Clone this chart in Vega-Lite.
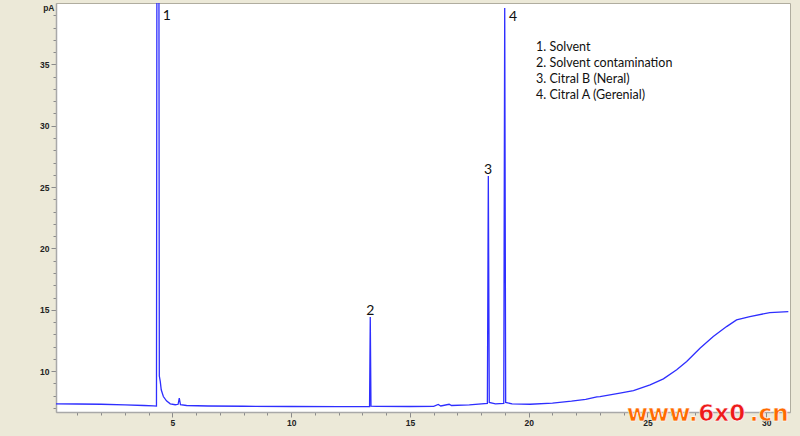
{
  "$schema": "https://vega.github.io/schema/vega-lite/v6.json",
  "autosize": {"type": "none"},
  "width": 734,
  "height": 409,
  "padding": {"left": 56, "top": 3, "right": 10, "bottom": 24},
  "background": "#ECE9D8",
  "view": {"fill": "white", "stroke": "#b0ad9f", "strokeWidth": 1},
  "config": {
    "axis": {
      "domainColor": "#a8a8a8",
      "domainWidth": 1.5,
      "tickColor": "#8a8a8a",
      "tickWidth": 1,
      "labelFont": "Liberation Sans",
      "labelFontSize": 8.5,
      "labelFontWeight": "bold",
      "labelColor": "#222222",
      "grid": false,
      "title": null
    }
  },
  "resolve": {"axis": {"x": "independent", "y": "independent"}},
  "datasets": {
    "signal": [
      {"t": 0.1, "v": 7.34}, {"t": 1.0, "v": 7.32}, {"t": 2.0, "v": 7.3}, {"t": 3.0, "v": 7.25},
      {"t": 3.8, "v": 7.2}, {"t": 4.2, "v": 7.17}, {"t": 4.33, "v": 7.15}, {"t": 4.35, "v": 48},
      {"t": 4.43, "v": 48}, {"t": 4.45, "v": 9.6}, {"t": 4.49, "v": 9.15}, {"t": 4.53, "v": 8.48},
      {"t": 4.62, "v": 7.93}, {"t": 4.75, "v": 7.58}, {"t": 4.91, "v": 7.34}, {"t": 5.12, "v": 7.26},
      {"t": 5.24, "v": 7.3}, {"t": 5.29, "v": 7.8}, {"t": 5.34, "v": 7.26}, {"t": 5.6, "v": 7.2},
      {"t": 6.5, "v": 7.16}, {"t": 8.0, "v": 7.14}, {"t": 10.0, "v": 7.12}, {"t": 12.0, "v": 7.1},
      {"t": 13.3, "v": 7.1}, {"t": 13.33, "v": 14.42}, {"t": 13.36, "v": 7.15}, {"t": 13.6, "v": 7.13},
      {"t": 15.0, "v": 7.12}, {"t": 16.0, "v": 7.13}, {"t": 16.19, "v": 7.28}, {"t": 16.3, "v": 7.16},
      {"t": 16.65, "v": 7.3}, {"t": 16.75, "v": 7.2}, {"t": 17.5, "v": 7.25}, {"t": 18.26, "v": 7.38},
      {"t": 18.3, "v": 25.9}, {"t": 18.34, "v": 7.45}, {"t": 18.6, "v": 7.33}, {"t": 18.95, "v": 7.38},
      {"t": 18.99, "v": 39.6}, {"t": 19.03, "v": 7.45}, {"t": 19.3, "v": 7.33}, {"t": 20.06, "v": 7.3},
      {"t": 21.0, "v": 7.4}, {"t": 21.8, "v": 7.55}, {"t": 22.4, "v": 7.7}, {"t": 22.87, "v": 7.9},
      {"t": 23.0, "v": 7.93}, {"t": 23.84, "v": 8.21}, {"t": 24.41, "v": 8.42}, {"t": 25.11, "v": 8.88},
      {"t": 25.67, "v": 9.37}, {"t": 26.23, "v": 10.11}, {"t": 26.65, "v": 10.78}, {"t": 27.21, "v": 11.87},
      {"t": 27.77, "v": 12.82}, {"t": 28.33, "v": 13.63}, {"t": 28.75, "v": 14.18}, {"t": 29.31, "v": 14.45},
      {"t": 30.15, "v": 14.77}, {"t": 30.93, "v": 14.85}
    ],
    "peaks": [
      {"t": 4.77, "v": 38.93, "label": "1"},
      {"t": 13.33, "v": 14.93, "label": "2"},
      {"t": 18.29, "v": 26.39, "label": "3"},
      {"t": 19.34, "v": 38.85, "label": "4"}
    ],
    "legend": [
      {"t": 20.31, "v": 36.41, "label": "1. Solvent"},
      {"t": 20.31, "v": 35.11, "label": "2. Solvent contamination"},
      {"t": 20.31, "v": 33.8, "label": "3. Citral B (Neral)"},
      {"t": 20.31, "v": 32.5, "label": "4. Citral A (Gerenial)"}
    ],
    "mark": [
      {"t": 24.13, "v": 5.9, "part": "www."},
      {"t": 27.14, "v": 5.9, "part": "6x0"},
      {"t": 29.31, "v": 5.9, "part": ".cn"}
    ]
  },
  "layer": [
    {
      "data": {"name": "signal"},
      "mark": {"type": "line", "strokeOpacity": 0, "clip": true},
      "encoding": {
        "x": {
          "field": "t", "type": "quantitative",
          "scale": {"domain": [0.1, 31], "nice": false, "zero": false},
          "axis": {
            "orient": "bottom",
            "values": [1,2,3,4,6,7,8,9,11,12,13,14,16,17,18,19,21,22,23,24,26,27,28,29],
            "labels": false,
            "tickSize": 3,
            "domain": false
          }
        },
        "y": {
          "field": "v", "type": "quantitative",
          "scale": {"domain": [6.67, 40], "nice": false, "zero": false},
          "axis": {
            "orient": "left",
            "values": [7,8,9,11,12,13,14,16,17,18,19,21,22,23,24,26,27,28,29,31,32,33,34,36,37,38,39],
            "labels": false,
            "tickSize": 3,
            "domain": false
          }
        }
      }
    },
    {
      "data": {"name": "signal"},
      "mark": {"type": "line", "color": "#2e2eff", "strokeWidth": 1.3, "clip": true},
      "encoding": {
        "x": {
          "field": "t", "type": "quantitative",
          "axis": {
            "orient": "bottom",
            "values": [5, 10, 15, 20, 25, 30],
            "tickSize": 5,
            "labelPadding": 1,
            "labelOverlap": false,
            "labelFlush": false
          }
        },
        "y": {
          "field": "v", "type": "quantitative",
          "axis": {
            "orient": "left",
            "values": [10, 15, 20, 25, 30, 35, 40],
            "labelExpr": "datum.value === 40 ? 'pA' : datum.label",
            "labelBaseline": {"condition": {"test": "datum.value === 40", "value": "top"}, "value": "middle"},
            "tickSize": {"condition": {"test": "datum.value === 40", "value": 0}, "value": 5},
            "labelOverlap": false,
            "labelPadding": 2
          }
        }
      }
    },
    {
      "data": {"name": "peaks"},
      "mark": {"type": "text", "font": "Lato", "fontSize": 14, "color": "#111111", "align": "center", "baseline": "middle"},
      "encoding": {
        "x": {"field": "t", "type": "quantitative", "axis": null},
        "y": {"field": "v", "type": "quantitative", "axis": null},
        "text": {"field": "label"}
      }
    },
    {
      "data": {"name": "legend"},
      "mark": {"type": "text", "font": "Lato", "fontSize": 12.5, "color": "#111111", "align": "left", "baseline": "middle"},
      "encoding": {
        "x": {"field": "t", "type": "quantitative", "axis": null},
        "y": {"field": "v", "type": "quantitative", "axis": null},
        "text": {"field": "label"}
      }
    },
    {
      "data": {"name": "mark"},
      "mark": {"type": "text", "font": "DejaVu Sans", "fontWeight": "bold", "fontSize": 23, "align": "left", "baseline": "alphabetic", "clip": false, "stroke": "white", "strokeWidth": 0.6},
      "encoding": {
        "x": {"field": "t", "type": "quantitative", "axis": null},
        "y": {"field": "v", "type": "quantitative", "axis": null},
        "text": {"field": "part"},
        "color": {"field": "part", "type": "nominal", "scale": {"domain": ["www.", "6x0", ".cn"], "range": ["#ff6a00", "#ee1a1a", "#ff6a00"]}, "legend": null}
      }
    }
  ]
}
